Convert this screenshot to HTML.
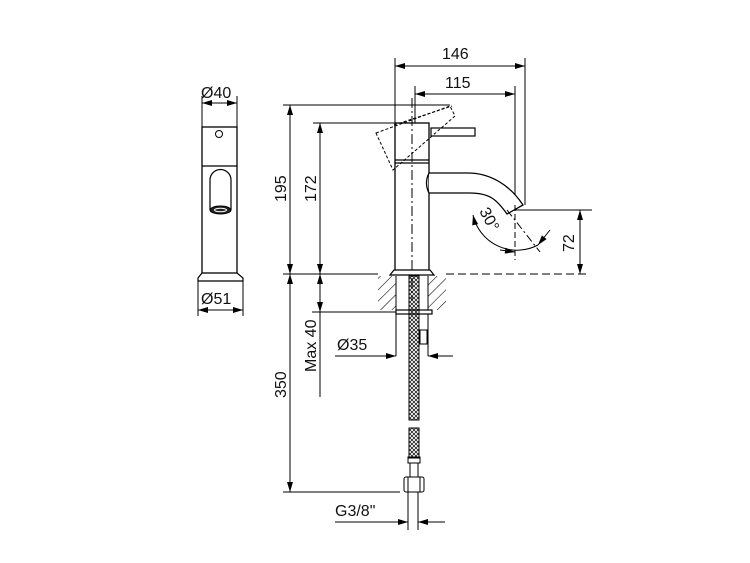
<!DOCTYPE html>
<html><head><style>
html,body{margin:0;padding:0;background:#fff;}
svg{display:block;}
text{font-family:"Liberation Sans",sans-serif;font-size:16px;fill:#111;}
</style></head><body>
<svg width="750" height="563" viewBox="0 0 750 563" xmlns="http://www.w3.org/2000/svg">
<defs>
<marker id="a" viewBox="0 0 10 6" refX="10" refY="3" markerWidth="11" markerHeight="6" orient="auto-start-reverse" markerUnits="userSpaceOnUse"><path d="M0,0 L10,3 L0,6 z" fill="#000"/></marker>
<pattern id="h" width="8" height="8" patternUnits="userSpaceOnUse" patternTransform="rotate(45)"><line x1="0" y1="0" x2="0" y2="8" stroke="#000" stroke-width="1.1"/></pattern>
<pattern id="x" width="4" height="4" patternUnits="userSpaceOnUse"><path d="M0,0 L4,4 M4,0 L0,4" stroke="#000" stroke-width="0.7"/></pattern>
</defs>
<g stroke="#000" stroke-width="1" fill="none">
<!-- left side view -->
<line x1="202" y1="96" x2="202" y2="127"/><line x1="237" y1="96" x2="237" y2="127"/>
<line x1="202" y1="103" x2="237" y2="103" marker-start="url(#a)" marker-end="url(#a)"/>
<rect x="202" y="127" width="35" height="146" stroke-width="1.3"/>
<line x1="202" y1="166" x2="237" y2="166" stroke-width="1.3"/>
<circle cx="219" cy="134" r="3.5"/>
<path d="M210,210 L210,180 A10.5,10.5 0 0 1 231,180 L231,210" stroke-width="1.2"/>
<ellipse cx="220.5" cy="210" rx="10.5" ry="4" fill="#222"/>
<ellipse cx="220.5" cy="210" rx="6" ry="1.8" stroke="#fff"/>
<path d="M202,273 L198,278 L198,281 L243,281 L243,278 L237,273" stroke-width="1.2"/>
<line x1="198" y1="281" x2="198" y2="316"/><line x1="243" y1="281" x2="243" y2="316"/>
<line x1="198" y1="310" x2="243" y2="310" marker-start="url(#a)" marker-end="url(#a)"/>

<!-- top dims -->
<line x1="395" y1="58" x2="395" y2="123"/>
<line x1="525" y1="58" x2="525" y2="205"/>
<line x1="395" y1="66" x2="525" y2="66" marker-start="url(#a)" marker-end="url(#a)"/>
<line x1="415" y1="86" x2="415" y2="125"/>
<line x1="515" y1="86" x2="515" y2="205"/>
<line x1="415" y1="94" x2="515" y2="94" marker-start="url(#a)" marker-end="url(#a)"/>

<!-- height dims -->
<line x1="283" y1="105" x2="450" y2="105"/>
<line x1="313" y1="123" x2="395" y2="123"/>
<line x1="290" y1="105" x2="290" y2="274" marker-start="url(#a)" marker-end="url(#a)"/>
<line x1="320" y1="123" x2="320" y2="274" marker-start="url(#a)" marker-end="url(#a)"/>
<line x1="283" y1="274" x2="378" y2="274"/>
<line x1="446" y1="274" x2="590" y2="274" stroke-dasharray="8 4"/>

<!-- body -->
<rect x="395" y="123" width="34" height="150" stroke-width="1.3" fill="#fff"/>
<line x1="395" y1="160" x2="429" y2="160" stroke-width="1.3"/>
<line x1="395" y1="163" x2="429" y2="163" stroke-width="1.3"/>
<rect x="431" y="128" width="44" height="8" stroke-width="1.2"/>
<path d="M376,133 L450,106 L455,116 L393,170 Z" stroke-dasharray="3 2"/>
<line x1="394" y1="125" x2="452" y2="106" stroke-dasharray="3 2"/>
<!-- spout -->
<path d="M429,173 L468,173 C490,173 510,185 523,205 L507,214 C497,200 490,193 470,193 L429,193" stroke-width="1.3" fill="#fff"/>
<path d="M429,173 Q424,183 429,193" stroke-width="1.3"/>
<!-- centerline -->
<line x1="412" y1="98" x2="412" y2="300" stroke-dasharray="10 3 2 3"/>
<line x1="515" y1="205" x2="515" y2="260" stroke-dasharray="6 3"/>
<line x1="507" y1="210" x2="540" y2="252" stroke-dasharray="8 3 2 3"/>
<path d="M473,215 A45,45 0 0 0 538,245" marker-start="url(#a)"/>
<line x1="500" y1="250" x2="515" y2="252" marker-end="url(#a)"/>
<line x1="550" y1="230" x2="538" y2="245" marker-end="url(#a)"/>
<!-- 72 -->
<line x1="515" y1="210" x2="592" y2="210"/>
<line x1="580" y1="210" x2="580" y2="274" marker-start="url(#a)" marker-end="url(#a)"/>

<!-- flange & countertop -->
<path d="M390,275 L394,270 L430,270 L434,275 Z" stroke-width="1.2" fill="#fff"/>
<rect x="378" y="276" width="18" height="34" fill="url(#h)" stroke="none"/>
<rect x="428" y="276" width="18" height="34" fill="url(#h)" stroke="none"/>
<line x1="396" y1="276" x2="396" y2="356"/><line x1="428" y1="276" x2="428" y2="356"/>
<rect x="396" y="310" width="36" height="4" stroke-width="1.2" fill="#fff"/>
<rect x="420" y="330" width="7" height="14" fill="#fff"/>
<!-- hose -->
<rect x="409" y="276" width="10" height="144" fill="url(#x)"/>
<rect x="409" y="428" width="10" height="30" fill="url(#x)"/>
<rect x="408" y="457" width="12" height="6"/>
<rect x="410" y="463" width="8" height="14"/>
<rect x="404" y="477" width="20" height="15" rx="2"/>
<line x1="408" y1="477" x2="408" y2="492"/><line x1="420" y1="477" x2="420" y2="492"/>
<line x1="408" y1="492" x2="408" y2="530"/><line x1="418" y1="492" x2="418" y2="530"/>

<!-- Max 40 / 350 -->
<line x1="312" y1="312" x2="396" y2="312"/>
<line x1="320" y1="274" x2="320" y2="312" marker-start="url(#a)" marker-end="url(#a)"/>
<line x1="320" y1="312" x2="320" y2="397"/>
<line x1="290" y1="274" x2="290" y2="492" marker-start="url(#a)" marker-end="url(#a)"/>
<line x1="283" y1="492" x2="400" y2="492"/>
<!-- Ø35 -->
<line x1="335" y1="356" x2="396" y2="356"/>
<line x1="380" y1="356" x2="396" y2="356" marker-end="url(#a)"/>
<line x1="444" y1="356" x2="428" y2="356" marker-end="url(#a)"/>
<line x1="428" y1="356" x2="453" y2="356"/>
<!-- G3/8 -->
<line x1="335" y1="522" x2="408" y2="522"/>
<line x1="393" y1="522" x2="408" y2="522" marker-end="url(#a)"/>
<line x1="433" y1="522" x2="418" y2="522" marker-end="url(#a)"/>
<line x1="418" y1="522" x2="445" y2="522"/>
</g>
<text x="201" y="98">Ø40</text>
<text x="201" y="304">Ø51</text>
<text x="442" y="59">146</text>
<text x="445" y="88">115</text>
<text transform="translate(286,202) rotate(-90)">195</text>
<text transform="translate(316,202) rotate(-90)">172</text>
<text transform="translate(286,398) rotate(-90)">350</text>
<text transform="translate(316,372) rotate(-90)">Max 40</text>
<text transform="translate(574,252) rotate(-90)">72</text>
<text transform="translate(479,211) rotate(62)">30°</text>
<text x="337" y="350">Ø35</text>
<text x="335" y="516">G3/8"</text>
</svg>
</body></html>
